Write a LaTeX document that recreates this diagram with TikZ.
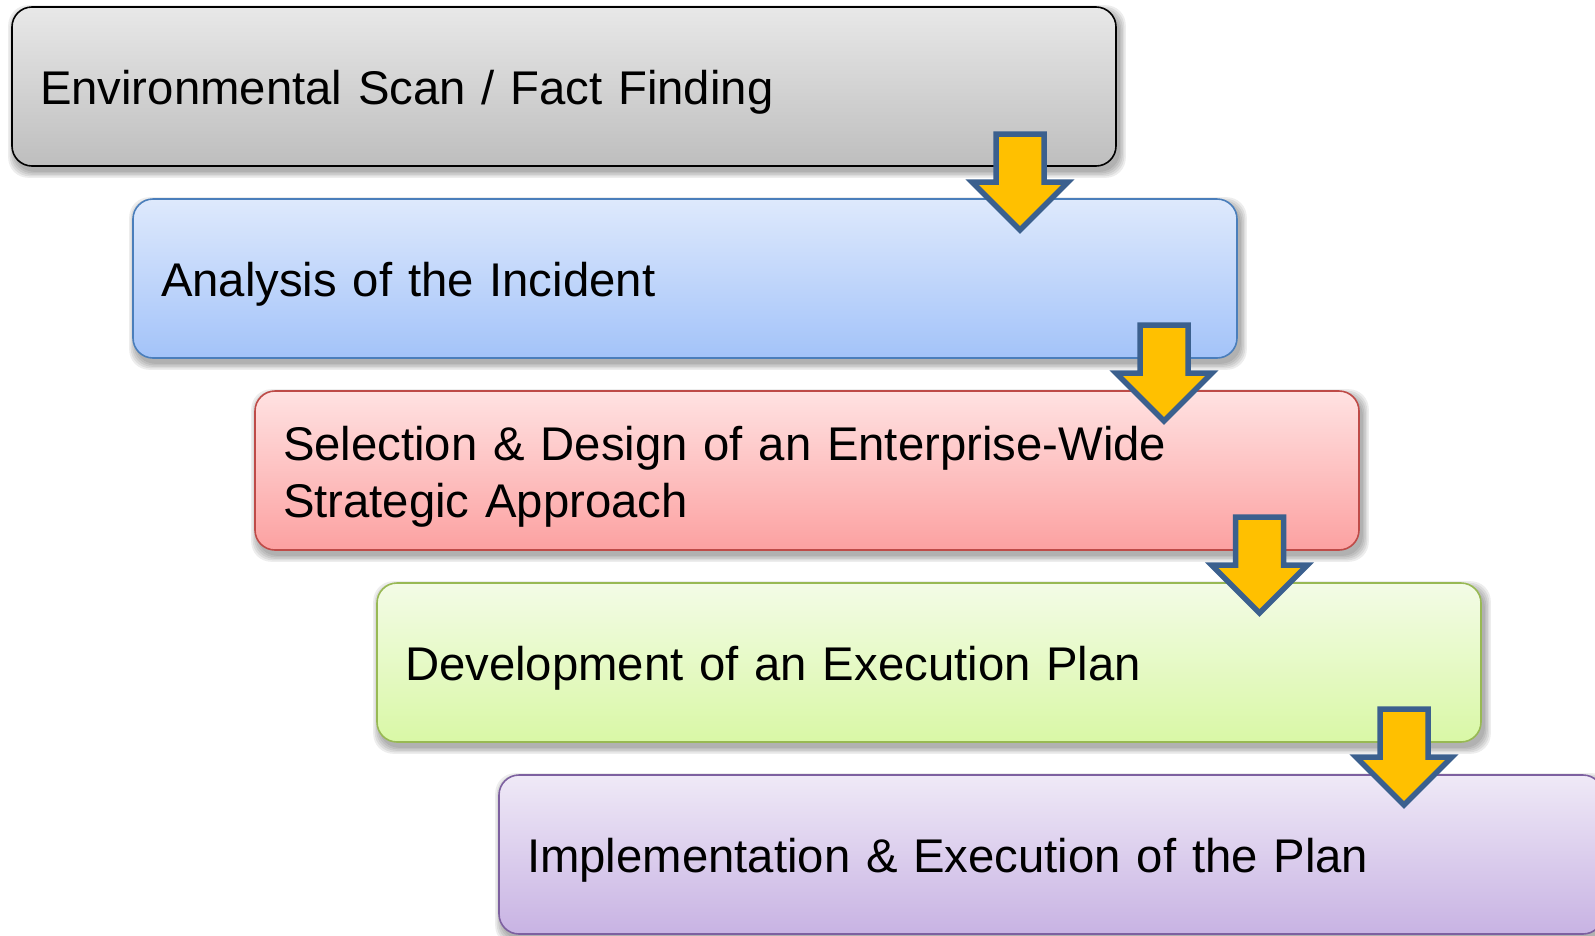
\documentclass[tikz,border=0pt]{standalone}
\usepackage{fontspec}
\setmainfont{Liberation Sans}
\usetikzlibrary{backgrounds}
\definecolor{g1t}{HTML}{E8E8E8}\definecolor{g1b}{HTML}{BEBEBE}\definecolor{g1d}{HTML}{000000}
\definecolor{b2t}{HTML}{DEE9FC}\definecolor{b2b}{HTML}{A3C3F9}\definecolor{b2d}{HTML}{4A7EBB}
\definecolor{r3t}{HTML}{FFE2E2}\definecolor{r3b}{HTML}{FCA1A1}\definecolor{r3d}{HTML}{BE4B48}
\definecolor{g4t}{HTML}{F3FBE6}\definecolor{g4b}{HTML}{D9F8A6}\definecolor{g4d}{HTML}{98B954}
\definecolor{p5t}{HTML}{EFE9F7}\definecolor{p5b}{HTML}{C8B3E3}\definecolor{p5d}{HTML}{7D60A0}
\definecolor{arrfill}{HTML}{FFC000}\definecolor{arrdraw}{HTML}{3B608E}
\tikzset{
  stepbox/.style={rounded corners=20pt, line width=1.6pt, minimum width=1104pt, minimum height=159pt,
    inner xsep=28pt, inner ysep=0pt, text width=1048pt, align=left,
    font=\fontsize{47.3}{57}\selectfont, text height=35.3pt, text depth=0pt},
  downarrow/.pic={
    \draw[fill=arrfill, draw=arrdraw, line width=5.5pt, line join=miter]
      (-24,3) -- (24,3) -- (24,51) -- (48,51) -- (0,99) -- (-48,51) -- (-24,51) -- cycle;
  }
}
\begin{document}
\begin{tikzpicture}[x=1pt, y=-1pt]
\useasboundingbox (0,0) rectangle (1595,935);
\node[stepbox, draw=g1d, top color=g1t, bottom color=g1b] (b1) at (564,86.5) {Environmental Scan / Fact Finding};
\node[stepbox, draw=b2d, top color=b2t, bottom color=b2b] (b2) at (685,278.5) {Analysis of the Incident};
\node[stepbox, draw=r3d, top color=r3t, bottom color=r3b, text depth=56.3pt] (b3) at (807,470.5) {Selection \& Design of an Enterprise-Wide\\Strategic Approach};
\node[stepbox, draw=g4d, top color=g4t, bottom color=g4b] (b4) at (929,662.5) {Development of an Execution Plan};
\node[stepbox, draw=p5d, top color=p5t, bottom color=p5b] (b5) at (1051,854.5) {Implementation \& Execution of the Plan};
\begin{scope}[on background layer]
  \foreach \b in {b1,b2,b3,b4,b5}{
    \foreach \e in {0,1.5,3,4.5,6}{
      \fill[black, opacity=0.07, rounded corners=20pt]
        ([shift={(3-\e,5-\e)}]\b.north west) rectangle ([shift={(3+\e,5+\e)}]\b.south east);
    }
  }
\end{scope}
\pic at (1020,131) {downarrow};
\pic at (1164,322) {downarrow};
\pic at (1259.5,514) {downarrow};
\pic at (1404,706) {downarrow};
\end{tikzpicture}
\end{document}
